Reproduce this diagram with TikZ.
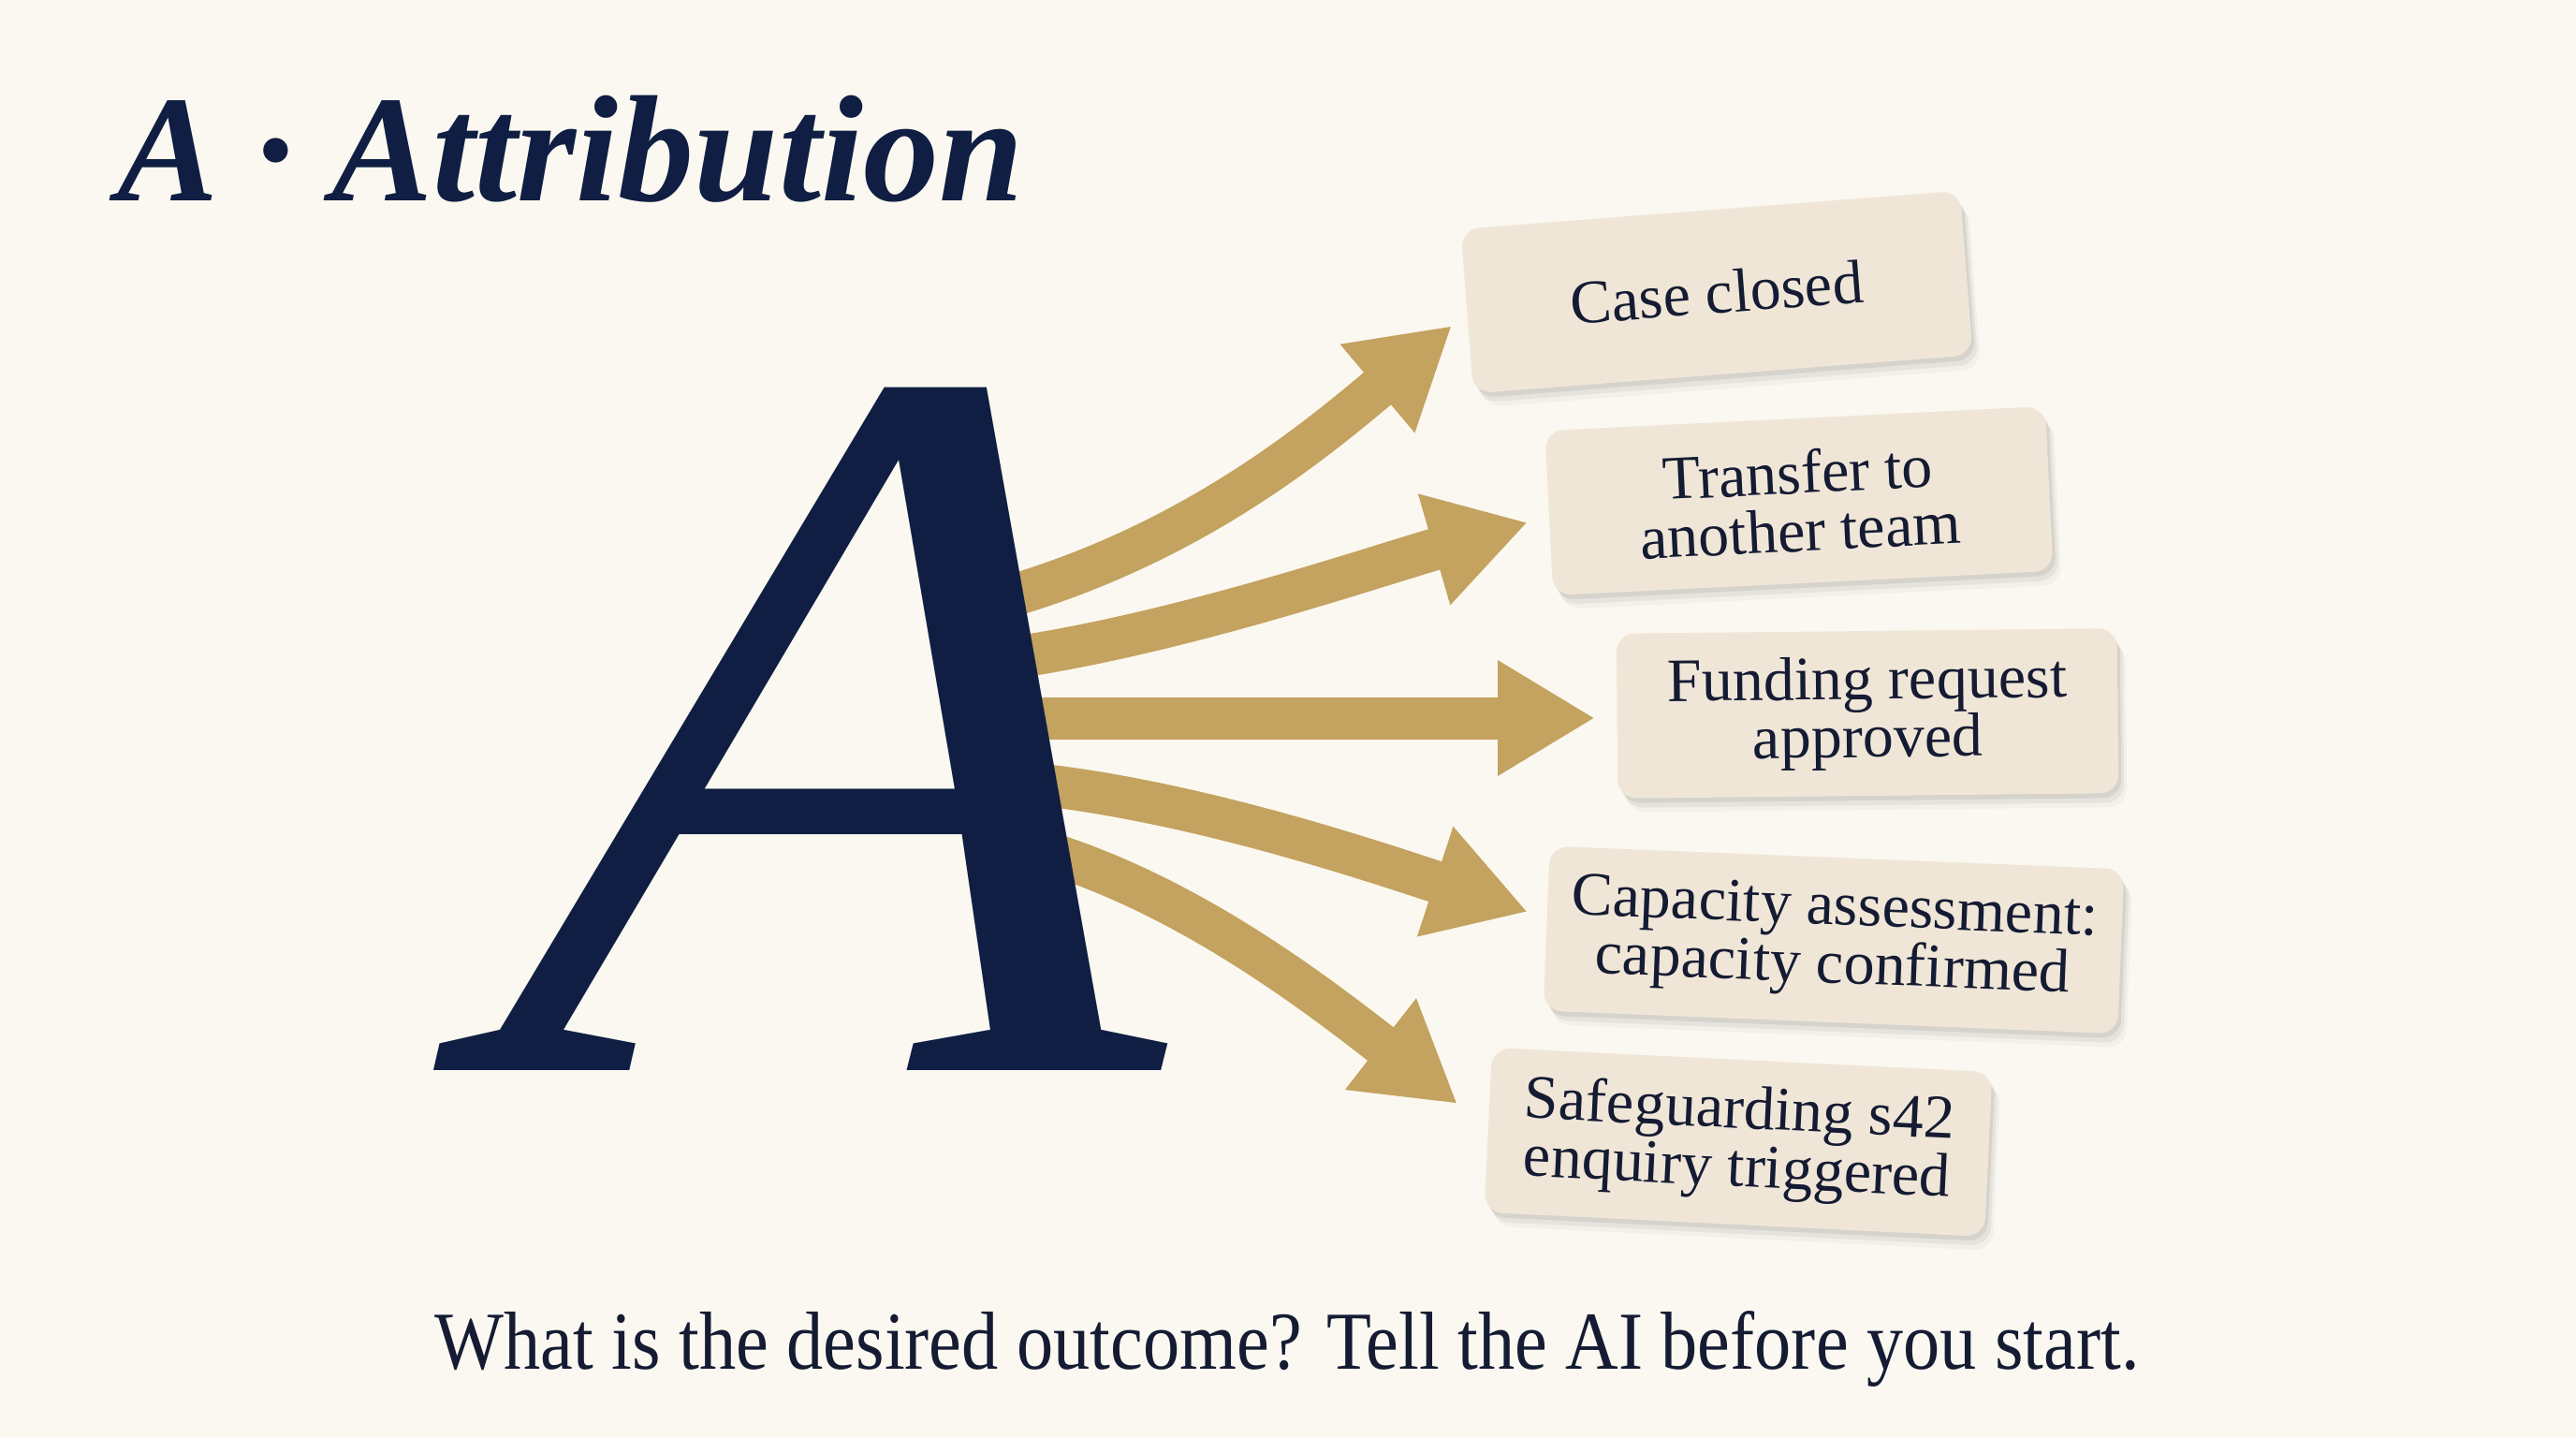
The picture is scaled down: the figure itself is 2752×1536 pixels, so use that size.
\documentclass[tikz,border=0pt]{standalone}
\usepackage{fontspec}
\setmainfont{Liberation Serif}
\usetikzlibrary{arrows.meta,shadows}
\definecolor{bg}{HTML}{FAF8F0}
\definecolor{navy}{HTML}{0F1E42}
\definecolor{gold}{HTML}{C4A25F}
\definecolor{boxfill}{HTML}{F0E6D7}
\definecolor{ink}{HTML}{141B33}
\begin{document}
\begin{tikzpicture}[x=1pt,y=-1pt,
  outbox/.style={fill=boxfill, rounded corners=20pt, minimum width=535pt, minimum height=176pt,
    align=center, text=ink, font=\fontsize{66}{62}\selectfont, inner sep=0pt,
    drop shadow={shadow xshift=3pt, shadow yshift=-5pt, opacity=0.07, fill=black},
    drop shadow={shadow xshift=6pt, shadow yshift=-10pt, opacity=0.05, fill=black},
    drop shadow={shadow xshift=9pt, shadow yshift=-15pt, opacity=0.03, fill=black}},
  goldarrow/.style={draw=gold, line width=45pt, -{Triangle[length=104pt,width=116pt]}},
]
\fill[bg] (0,0) rectangle (2752,1536);
\useasboundingbox (0,0) rectangle (2752,1536);

% title
\node[anchor=base west, inner sep=0pt, text=navy, font=\fontsize{162}{162}\selectfont\bfseries\itshape] (title) at (125,214) {A · Attribution};

% outcome boxes
\node[outbox, rotate=4.4] (b1) at (1834,312) {Case closed};
\node[outbox, rotate=2.8] (b2) at (1922,535) {Transfer to\\another team};
\node[outbox, rotate=0.6] (b3) at (1995,762) {Funding request\\approved};
\node[outbox, rotate=-2.3, minimum width=614pt] (b4) at (1959,1004) {Capacity assessment:\\capacity confirmed};
\node[outbox, rotate=-2.8] (b5) at (1857,1220) {Safeguarding s42\\enquiry triggered};

% arrow anchors
\coordinate (s1) at (1050,645);  \coordinate (t1) at (1551,348);
\coordinate (s2) at (1065,705);  \coordinate (t2) at (1632,558);
\coordinate (s3) at (1070,767);  \coordinate (t3) at (1704,767);
\coordinate (s4) at (1080,835);  \coordinate (t4) at (1632,974);
\coordinate (s5) at (1100,905);  \coordinate (t5) at (1557,1179);

\draw[goldarrow] (s1) .. controls (1260,590) and (1398,477) .. (t1);
\draw[goldarrow] (s2) .. controls (1250,680) and (1459,608) .. (t2);
\draw[goldarrow] (s3) -- (t3);
\draw[goldarrow] (s4) .. controls (1260,850) and (1461,918) .. (t4);
\draw[goldarrow] (s5) .. controls (1260,950) and (1399,1056) .. (t5);

% big letter A
\node[anchor=base west, inner sep=0pt, text=navy, xslant=0.03, transform shape,
  font=\fontsize{1105}{1105}\selectfont\itshape] (bigA) at (527,1143) {\scalebox{1.06}[1]{A}};

% bottom prompt
\node[anchor=base, inner sep=0pt, text=ink, font=\fontsize{88}{88}\selectfont] (prompt) at (1375,1462) {\scalebox{0.89}[1]{What is the desired outcome? Tell the AI before you start.}};
\end{tikzpicture}
\end{document}
